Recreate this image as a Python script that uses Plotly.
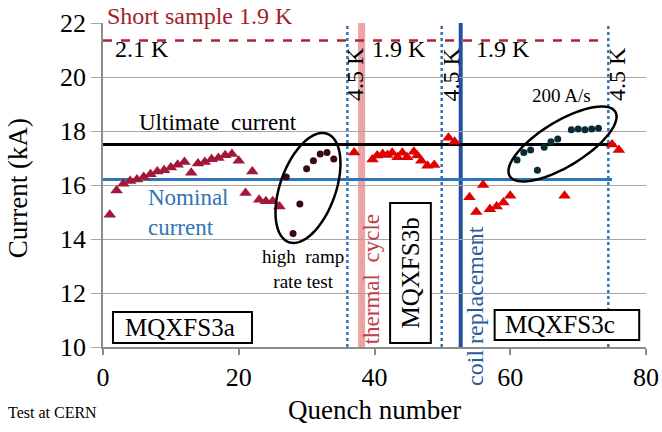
import numpy as np
import plotly.graph_objects as go

# ---- quench data -------------------------------------------------------
# MQXFS3a training quenches (2.1 K / 1.9 K)
quench_3a = list(range(1, 27))
current_3a = [14.9, 15.8, 16.05, 16.15, 16.2, 16.3, 16.4, 16.5, 16.55, 16.65,
              16.75, 16.85, 16.45, 16.8, 16.85, 16.95, 17.0, 17.1, 17.15, 16.9,
              15.7, 16.5, 15.45, 15.4, 15.4, 15.2]

# high ramp rate test
quench_ramp = list(range(27, 35))
current_ramp = [16.3, 14.2, 15.3, 16.6, 16.9, 17.15, 17.2, 16.96]

# MQXFS3b and MQXFS3c quenches
quench_3bc = [37.0, 39.7, 40.4, 41.2, 41.9, 42.6, 43.4, 44.1, 44.8, 45.8, 46.3,
              46.9, 47.8, 48.8, 50.9, 51.8, 54, 55, 56, 57, 58, 59, 60, 68, 75, 76]
current_3bc = [17.2, 16.94, 17.09, 17.15, 17.11, 17.19, 17.03, 17.19, 17.03, 17.23,
               17.09, 16.9, 16.71, 16.74, 17.75, 17.6, 15.55, 15.0, 16.0, 15.1,
               15.2, 15.35, 15.6, 15.6, 17.5, 17.3]

# ramp rate study at 200 A/s
quench_200 = [61, 62, 63, 64, 65, 66, 67, 69, 70, 71, 72, 73]
current_200 = [16.93, 17.2, 17.3, 16.55, 17.4, 17.6, 17.7, 18.05, 18.07, 18.05,
               18.07, 18.1]

# reference levels (kA) and the quench number where each line stops
short_sample, short_sample_end = 21.35, 74.3
ultimate, ultimate_end = 17.5, 75.5
nominal, nominal_end = 16.2, 75.0

# events along the test
temp_change_q = [36.0, 49.9, 74.45]      # switches to 4.5 K
thermal_cycle_q = 38.1
coil_replace_q = 52.7

x_ticks = [0, 20, 40, 60, 80]
y_ticks = [10, 12, 14, 16, 18, 20, 22]

# ---- layout geometry -----------------------------------------------------
W, H = 662, 432
ML, MR, MT, MB = 103, 16, 23, 85
X_RANGE, Y_RANGE = [0, 80], [10, 22]
PX_X = (W - ML - MR) / (X_RANGE[1] - X_RANGE[0])
PX_Y = (H - MT - MB) / (Y_RANGE[1] - Y_RANGE[0])

SERIF = "Liberation Serif"
MAROON = "#A3173A"
RED = "#E00000"
BLUE = "#2E75B6"
GRID = "#A6A6A6"


def ellipse_path(cx, cy, a_px, b_px, angle_deg, n=90):
    """Tilted ellipse around (cx, cy) in data units, semi-axes in pixels."""
    t = np.linspace(0, 2 * np.pi, n)
    th = np.radians(angle_deg)
    dx = a_px * np.cos(t) * np.cos(th) - b_px * np.sin(t) * np.sin(th)
    dy = a_px * np.cos(t) * np.sin(th) + b_px * np.sin(t) * np.cos(th)
    xs = cx + dx / PX_X
    ys = cy + dy / PX_Y
    pts = [f"{x:.3f},{y:.3f}" for x, y in zip(xs, ys)]
    return "M " + " L ".join(pts) + " Z"


fig = go.Figure()

# horizontal reference levels
fig.add_trace(go.Scatter(x=[0, short_sample_end], y=[short_sample] * 2, mode="lines",
                         line=dict(color="#B22234", width=2.5, dash="dash"),
                         hoverinfo="skip"))
fig.add_trace(go.Scatter(x=[0, ultimate_end], y=[ultimate] * 2, mode="lines",
                         line=dict(color="black", width=3), hoverinfo="skip"))
fig.add_trace(go.Scatter(x=[0, nominal_end], y=[nominal] * 2, mode="lines",
                         line=dict(color=BLUE, width=3), hoverinfo="skip"))

# quench markers
fig.add_trace(go.Scatter(x=quench_3a, y=current_3a, mode="markers",
                         marker=dict(symbol="triangle-up", size=11, color=MAROON)))
fig.add_trace(go.Scatter(x=quench_ramp, y=current_ramp, mode="markers",
                         marker=dict(symbol="circle", size=7, color="#3C0A0E")))
fig.add_trace(go.Scatter(x=quench_3bc, y=current_3bc, mode="markers",
                         marker=dict(symbol="triangle-up", size=11, color=RED)))
fig.add_trace(go.Scatter(x=quench_200, y=current_200, mode="markers",
                         marker=dict(symbol="circle", size=7, color="#0B2A35")))

shapes = []
for q in temp_change_q:
    shapes.append(dict(type="line", xref="x", yref="y", x0=q, x1=q, y0=10, y1=22,
                       line=dict(color=BLUE, width=2.5, dash="dot"), layer="below"))
shapes.append(dict(type="line", xref="x", yref="y", x0=thermal_cycle_q, x1=thermal_cycle_q,
                   y0=10, y1=22, line=dict(color="#EBA3A3", width=7), layer="below"))
shapes.append(dict(type="line", xref="x", yref="y", x0=coil_replace_q, x1=coil_replace_q,
                   y0=10, y1=22, line=dict(color="#234F9C", width=4), layer="below"))

# ellipses around the ramp-rate studies
shapes.append(dict(type="path", xref="x", yref="y",
                   path=ellipse_path(30.2, 15.89, 57.5, 27.8, 70.5),
                   line=dict(color="black", width=2.5)))
shapes.append(dict(type="path", xref="x", yref="y",
                   path=ellipse_path(67.7, 17.52, 61.8, 22.5, 31.4),
                   line=dict(color="black", width=2.5)))

# magnet name boxes
box_line = dict(color="black", width=2)
shapes.append(dict(type="rect", xref="x", yref="y", x0=1.47, x1=21.95, y0=10.15, y1=11.3,
                   line=box_line, fillcolor="white"))
shapes.append(dict(type="rect", xref="x", yref="y", x0=42.3, x1=48.3, y0=10.15, y1=15.33,
                   line=box_line, fillcolor="white"))
shapes.append(dict(type="rect", xref="x", yref="y", x0=57.7, x1=79.0, y0=10.26, y1=11.37,
                   line=box_line, fillcolor="white"))


def txt(x, y, s, size, color="black", angle=0, xanchor="center", **kw):
    return dict(x=x, y=y, text=s, showarrow=False, textangle=angle, xanchor=xanchor,
                yanchor="middle", font=dict(family=SERIF, size=size, color=color), **kw)


annotations = [
    dict(xref="x", yref="paper", x=0.3, y=1, yshift=7, text="Short sample 1.9 K",
         showarrow=False, xanchor="left", yanchor="middle",
         font=dict(family=SERIF, size=24, color="#A31E2A")),
    txt(1.5, 21.05, "2.1 K", 24, xanchor="left"),
    txt(39.4, 21.05, "1.9 K", 24, xanchor="left"),
    txt(54.6, 21.05, "1.9 K", 24, xanchor="left"),
    txt(37.1, 20.1, "4.5 K", 24, angle=-90),
    txt(51.3, 20.1, "4.5 K", 24, angle=-90),
    txt(75.7, 20.1, "4.5 K", 24, angle=-90),
    txt(16.9, 18.3, "Ultimate  current", 23),
    txt(6.4, 15.0, "Nominal<br>current", 23, color=BLUE, xanchor="left", align="left"),
    txt(29.4, 12.9, "high  ramp<br>rate test", 19),
    txt(67.6, 19.33, "200 A/s", 19),
    txt(39.6, 12.5, "thermal  cycle", 23, color="#C0404A", angle=-90),
    txt(54.8, 11.52, "coil replacement", 24, color="#2A5A9A", angle=-90),
    txt(11.3, 10.74, "MQXFS3a", 25),
    txt(45.3, 12.74, "MQXFS3b", 25, angle=-90),
    txt(67.3, 10.82, "MQXFS3c", 25),
    dict(xref="paper", yref="paper", x=0.5, y=0, yshift=-63, text="Quench number",
         showarrow=False, yanchor="middle",
         font=dict(family=SERIF, size=27, color="black")),
    dict(xref="paper", yref="paper", x=0, y=0.49, xshift=-85, text="Current (kA)",
         showarrow=False, textangle=-90, xanchor="center", yanchor="middle",
         font=dict(family=SERIF, size=27, color="black")),
    dict(xref="paper", yref="paper", x=0, y=0, xshift=-97, yshift=-65, text="Test at CERN",
         showarrow=False, xanchor="left", yanchor="middle",
         font=dict(family=SERIF, size=16, color="black")),
]

fig.update_layout(
    width=W, height=H,
    margin=dict(l=ML, r=MR, t=MT, b=MB, pad=0, autoexpand=False),
    paper_bgcolor="white", plot_bgcolor="white",
    showlegend=False,
    shapes=shapes,
    annotations=annotations,
    xaxis=dict(range=X_RANGE, tickvals=x_ticks, showgrid=False, zeroline=False,
               automargin=False,
               showline=True, linecolor="#8C8C8C", linewidth=1.5,
               ticks="outside", ticklen=6, tickcolor="#8C8C8C", tickwidth=1.5,
               ticklabelstandoff=0,
               tickfont=dict(family=SERIF, size=26, color="black")),
    yaxis=dict(range=Y_RANGE, tickvals=y_ticks, showgrid=True, gridcolor=GRID,
               automargin=False,
               gridwidth=1.2, zeroline=False, showline=True, linecolor="#8C8C8C",
               linewidth=1.5, ticks="outside", ticklen=10, tickcolor=GRID,
               tickfont=dict(family=SERIF, size=26, color="black")),
)

fig.write_html("out.html")
